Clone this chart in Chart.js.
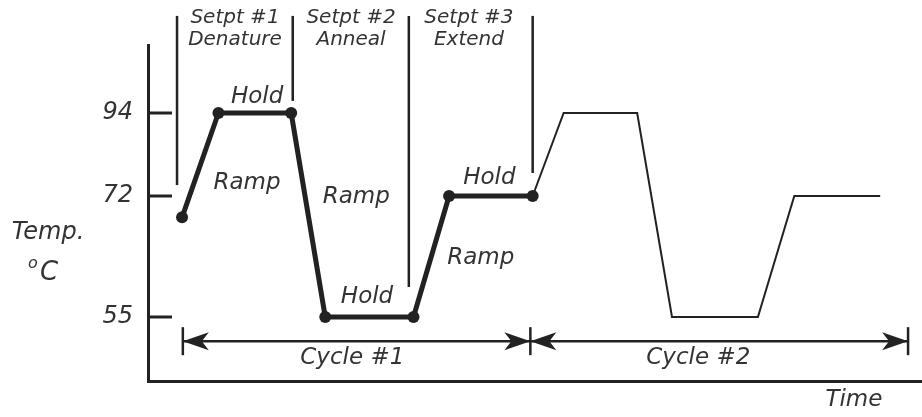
<!DOCTYPE html>
<html>
<head>
<meta charset="utf-8">
<script src="https://cdn.jsdelivr.net/npm/chart.js@4.4.1/dist/chart.umd.min.js"></script>
<style>
  html, body { margin: 0; padding: 0; background: #fff; }
  #wrap { width: 922px; height: 417px; position: relative; }
</style>
</head>
<body>
<div id="wrap"><canvas id="pcr"></canvas></div>
<script>
// --- Data: time in arbitrary units, temperature in °C ---
const cycle1Time = [4.4, 9.1, 18.5, 22.9, 34.3, 38.9, 49.7];
const cycle1Temp = [69, 94, 94, 55, 55, 72, 72];
const cycle2Time = [49.7, 53.7, 63.2, 67.7, 78.8, 83.5, 94.6];
const cycle2Temp = [72, 94, 94, 55, 55, 72, 72];
const tempTicks = [55, 72, 94];
const setpointLabels = [['Setpt #1', 'Denature'], ['Setpt #2', 'Anneal'], ['Setpt #3', 'Extend']];
const cycleLabels = ['Cycle #1', 'Cycle #2'];
const cycleEdges = [4.5, 49.4, 98.2];

const INK = '#222';
const TEXT = '#333';
const FONT = '"DejaVu Sans", sans-serif';

// where the annotations sit, in (time, temp) units
const layout = {
  dividers: [[3.75, 74.9], [18.7, 97.2], [33.7, 59.2], [49.7, 78.1]],
  dividerTop: 119.7,
  setpointX: [11.24, 26.23, 41.47],
  setpointY: [119.2, 113.3],
  phaseText: [['Hold', 14.1, 98.2], ['Ramp', 12.8, 75.4], ['Ramp', 26.9, 71.9],
              ['Hold', 28.3, 57.8], ['Hold', 44.1, 76.8], ['Ramp', 43.0, 63.3]],
  cycleTextX: [26.4, 71.1],
  cycleTextY: 49.2,
  arrowY: 51.6,
  timeLabel: [91.2, 43.3]
};

// The drawing gives each setpoint its own band, so the temp axis is piecewise linear
const TEMP_KNOTS = [[46, 0], [55, 0.1905], [72, 0.5506], [94, 0.7976], [112, 1]];

function tempToDecimal(v) {
  const k = TEMP_KNOTS;
  let i = 0;
  while (i < k.length - 2 && v > k[i + 1][0]) i++;
  const [v0, d0] = k[i], [v1, d1] = k[i + 1];
  return d0 + (v - v0) * (d1 - d0) / (v1 - v0);
}
function decimalToTemp(d) {
  const k = TEMP_KNOTS;
  let i = 0;
  while (i < k.length - 2 && d > k[i + 1][1]) i++;
  const [v0, d0] = k[i], [v1, d1] = k[i + 1];
  return v0 + (d - d0) * (v1 - v0) / (d1 - d0);
}

class TempScale extends Chart.LinearScale {
  getPixelForValue(value) {
    if (value === null || isNaN(value)) return NaN;
    return this.getPixelForDecimal(tempToDecimal(value));
  }
  getValueForPixel(pixel) {
    return decimalToTemp(this.getDecimalForPixel(pixel));
  }
}
TempScale.id = 'tempBands';
TempScale.defaults = Chart.LinearScale.defaults;
Chart.register(TempScale);

function arrowHead(ctx, tipX, y, dir) {
  // dir = 1: body to the right (points left), dir = -1: points right
  ctx.beginPath();
  ctx.moveTo(tipX, y);
  ctx.lineTo(tipX + dir * 26, y - 9);
  ctx.lineTo(tipX + dir * 19, y);
  ctx.lineTo(tipX + dir * 26, y + 9);
  ctx.closePath();
  ctx.fill();
}

const pcrAnnotations = {
  id: 'pcrAnnotations',
  afterDraw(chart) {
    const { ctx, scales: { x, y } } = chart;
    ctx.save();
    ctx.strokeStyle = INK;
    ctx.fillStyle = INK;
    ctx.lineCap = 'butt';

    // tick marks pointing into the plot
    ctx.lineWidth = 3;
    tempTicks.forEach(v => {
      const py = y.getPixelForValue(v);
      ctx.beginPath();
      ctx.moveTo(x.left, py);
      ctx.lineTo(x.left + 24, py);
      ctx.stroke();
    });

    // setpoint dividers
    ctx.lineWidth = 2.5;
    const top = y.getPixelForValue(layout.dividerTop);
    layout.dividers.forEach(([t, bottom]) => {
      const px = x.getPixelForValue(t);
      ctx.beginPath();
      ctx.moveTo(px, top);
      ctx.lineTo(px, y.getPixelForValue(bottom));
      ctx.stroke();
    });

    // cycle arrows
    const ay = y.getPixelForValue(layout.arrowY);
    const ex = cycleEdges.map(t => x.getPixelForValue(t));
    ctx.lineWidth = 2.5;
    ctx.beginPath();
    ctx.moveTo(ex[0], ay);
    ctx.lineTo(ex[ex.length - 1], ay);
    ctx.stroke();
    ex.forEach(px => {
      ctx.beginPath();
      ctx.moveTo(px, ay - 14);
      ctx.lineTo(px, ay + 14);
      ctx.stroke();
    });
    for (let i = 0; i < ex.length - 1; i++) {
      arrowHead(ctx, ex[i], ay, 1);
      arrowHead(ctx, ex[i + 1], ay, -1);
    }

    // text
    ctx.fillStyle = TEXT;
    ctx.textAlign = 'center';
    ctx.textBaseline = 'middle';
    ctx.font = 'italic 20px ' + FONT;
    setpointLabels.forEach((lines, i) => {
      const px = x.getPixelForValue(layout.setpointX[i]);
      lines.forEach((s, j) => ctx.fillText(s, px, y.getPixelForValue(layout.setpointY[j])));
    });
    ctx.font = 'italic 23px ' + FONT;
    layout.phaseText.forEach(([s, t, v]) => {
      ctx.fillText(s, x.getPixelForValue(t), y.getPixelForValue(v));
    });
    cycleLabels.forEach((s, i) => {
      ctx.fillText(s, x.getPixelForValue(layout.cycleTextX[i]), y.getPixelForValue(layout.cycleTextY));
    });
    ctx.fillText('Time', x.getPixelForValue(layout.timeLabel[0]), y.getPixelForValue(layout.timeLabel[1]));

    // axis title, drawn upright
    ctx.font = 'italic 24px ' + FONT;
    ctx.fillText('Temp.', 48, 233);
    ctx.font = 'italic 26px ' + FONT;
    ctx.fillText('C', 49, 273);
    ctx.font = 'italic 16px ' + FONT;
    ctx.fillText('o', 33, 264);

    ctx.restore();
  }
};

new Chart(document.getElementById('pcr'), {
  type: 'line',
  data: {
    datasets: [
      {
        data: cycle1Time.map((t, i) => ({ x: t, y: cycle1Temp[i] })),
        borderColor: INK,
        borderWidth: 5,
        borderJoinStyle: 'round',
        pointRadius: 6,
        pointBackgroundColor: INK,
        pointBorderWidth: 0,
        tension: 0
      },
      {
        data: cycle2Time.map((t, i) => ({ x: t, y: cycle2Temp[i] })),
        borderColor: INK,
        borderWidth: 2,
        pointRadius: 0,
        tension: 0
      }
    ]
  },
  options: {
    responsive: true,
    maintainAspectRatio: false,
    animation: false,
    layout: { autoPadding: false, padding: { top: 45, left: 0, right: 0, bottom: 0 } },
    plugins: { legend: { display: false }, tooltip: { enabled: false } },
    scales: {
      x: {
        type: 'linear',
        min: 0,
        max: 100,
        grid: { display: false, drawTicks: false },
        border: { color: INK, width: 3 },
        ticks: { display: false },
        afterFit: s => { s.height = 36; }
      },
      y: {
        type: 'tempBands',
        min: 46,
        max: 112,
        afterBuildTicks: s => { s.ticks = tempTicks.map(v => ({ value: v })); },
        grid: { display: false, drawTicks: false },
        border: { color: INK, width: 3 },
        ticks: { color: TEXT, padding: 15, font: { family: FONT, size: 24, style: 'italic' } },
        afterFit: s => { s.width = 148; }
      }
    }
  },
  plugins: [pcrAnnotations]
});
</script>
</body>
</html>
